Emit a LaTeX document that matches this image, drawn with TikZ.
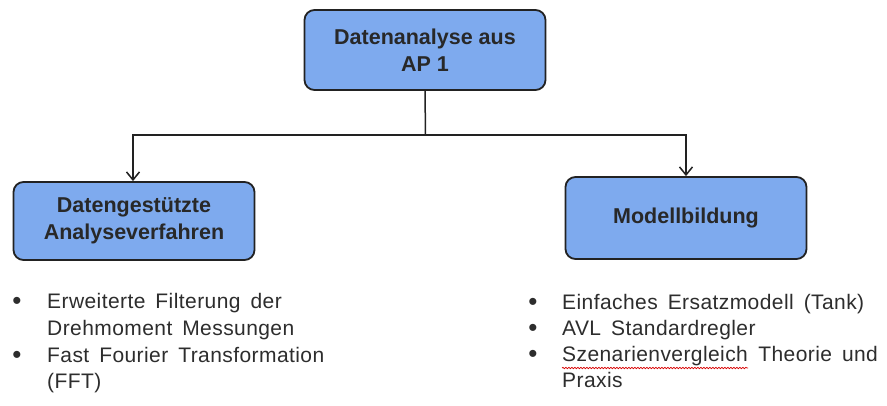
\documentclass[tikz,border=0pt]{standalone}
\usepackage{fontspec}
\setmainfont{Liberation Sans}
\newfontfamily\listfont{Liberation Sans}[WordSpace=1.6, LetterSpace=2]
\usetikzlibrary{arrows.meta,decorations.pathmorphing}
\definecolor{boxblue}{RGB}{126,170,238}
\definecolor{boxline}{RGB}{34,34,34}
\definecolor{boxtext}{RGB}{40,40,40}
\definecolor{listtext}{RGB}{45,45,45}
\tikzset{
  topicbox/.style={draw=boxline, line width=1.8pt, fill=boxblue, rounded corners=10pt,
    minimum width=241pt, text=boxtext, align=center, inner sep=0pt,
    font=\bfseries\fontsize{21.5}{27}\selectfont},
  link/.style={draw=boxline, line width=1.5pt},
  linkarrow/.style={link, -{Straight Barb[length=8pt,width=13pt,line width=1.5pt]}},
  listline/.style={anchor=base west, inner sep=0pt, text=listtext,
    font=\listfont\fontsize{21}{26}\selectfont},
  listdot/.style={anchor=base, inner sep=0pt, text=listtext,
    font=\fontsize{26}{26}\selectfont},
  spellmark/.style={draw=red!85!black, line width=0.7pt, decorate,
    decoration={snake, amplitude=0.7pt, segment length=3pt}}
}
\begin{document}
\begin{tikzpicture}[x=1pt, y=-1pt]
  \useasboundingbox[fill=white] (0,0) rectangle (887,405);

  % boxes
  \node[topicbox, minimum height=80pt] (top) at (425,50) {Datenanalyse aus\\AP 1};
  \node[topicbox, minimum height=78pt] (left) at (134,221) {Datengestützte\\Analyseverfahren};
  \node[topicbox, minimum height=82pt] (right) at (686,218) {Modellbildung};

  % connectors
  \coordinate (junction) at (425.5,135);
  \coordinate (lefttarget) at (133,0);
  \coordinate (righttarget) at (686,0);
  \draw[link] (top.south) -- (junction);
  \draw[linkarrow] (junction) -| (lefttarget |- left.north);
  \draw[linkarrow] (junction) -| (righttarget |- right.north);

  % left list
  \node[listdot] (lb1) at (17,309) {•};
  \node[listline] (l1) at (47,308) {Erweiterte Filterung der};
  \node[listline] (l2) at (47,335) {Drehmoment Messungen};
  \node[listdot] (lb2) at (17,363) {•};
  \node[listline] (l3) at (47,362) {Fast Fourier Transformation};
  \node[listline] (l4) at (47,388) {(FFT)};

  % right list
  \node[listdot] (rb1) at (533,310) {•};
  \node[listline] (r1) at (562,309) {Einfaches Ersatzmodell (Tank)};
  \node[listdot] (rb2) at (533,336) {•};
  \node[listline] (r2) at (562,335) {AVL Standardregler};
  \node[listdot] (rb3) at (533,362) {•};
  \node[listline] (r3a) at (562,361) {Szenarienvergleich};
  \node[listline] (r3b) at ([xshift=10pt]r3a.base east) {Theorie und};
  \node[listline] (r4) at (562,387) {Praxis};

  % spelling mark under the first word
  \draw[spellmark] ([yshift=-7pt]r3a.base west) -- ([yshift=-7pt]r3a.base east);
\end{tikzpicture}
\end{document}
